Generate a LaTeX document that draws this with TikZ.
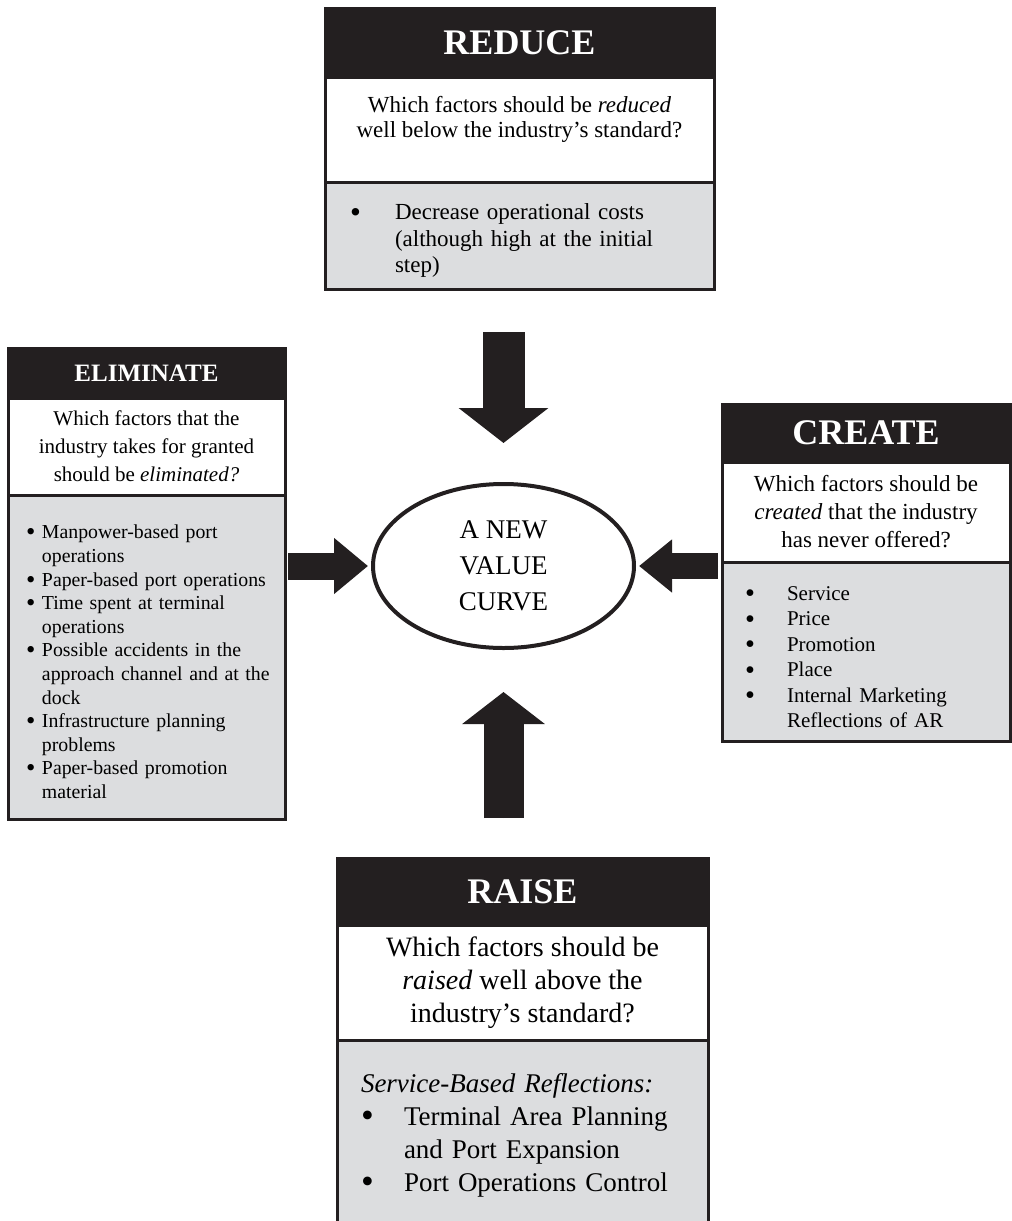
\documentclass[tikz,border=0pt]{standalone}
\usepackage{fontspec}
\setmainfont{Liberation Serif}
\usepackage{xcolor}
\usepackage{graphicx}
\usepackage{tikz}
\usetikzlibrary{positioning, shapes.geometric, arrows.meta}

\definecolor{inkblack}{HTML}{231F20}
\definecolor{listgray}{HTML}{DCDDDF}

\newcommand{\fsz}[2]{\fontsize{#1}{#2}\selectfont}
\newcommand{\bigdot}{\smash{\raisebox{-0.1em}{\scalebox{1.35}{\textbullet}}}}
\newcommand{\dotitem}[2]{\par\noindent\hangindent=#1\hangafter=1\makebox[#1][l]{\bigdot}#2}

\tikzset{
    headbox/.style={rectangle, draw=inkblack, fill=inkblack, text=white,
        line width=3pt, inner sep=0pt, outer sep=0pt, align=center},
    askbox/.style={rectangle, draw=inkblack, fill=white,
        line width=3pt, inner sep=0pt, outer sep=0pt, align=center},
    listbox/.style={rectangle, draw=inkblack, fill=listgray,
        line width=3pt, inner sep=0pt, outer sep=0pt, align=left},
    bigarrow/.style={draw=inkblack, fill=inkblack}
}

\begin{document}
\begin{tikzpicture}[x=1pt, y=-1pt]

    \useasboundingbox (0,0) rectangle (1012,1221);

    % =================================================================
    % 1. REDUCE
    % =================================================================
    \node[headbox, minimum width=389pt, minimum height=69pt, anchor=north west,
        font=\fsz{36}{40}\bfseries] (reduce-head) at (325,8) {REDUCE};
    \node[askbox, below=0pt of reduce-head, minimum width=389pt, minimum height=105pt,
        font=\fsz{23}{25}, text depth=26pt] (reduce-ask)
        {Which factors should be \textit{reduced}\\well below the industry’s standard?};
    \node[listbox, below=0pt of reduce-ask, minimum width=389pt, minimum height=107pt,
        text width=389pt, font=\fsz{23}{26.5}] (reduce-list)
        {\leftskip=25pt
         \dotitem{45pt}{Decrease operational costs\newline (although high at the initial\newline step)}\par};

    % =================================================================
    % 2. ELIMINATE
    % =================================================================
    \node[headbox, minimum width=277pt, minimum height=50pt, anchor=north west,
        font=\fsz{25}{28}\bfseries] (elim-head) at (8,348) {ELIMINATE};
    \node[askbox, below=0pt of elim-head, minimum width=277pt, minimum height=97pt,
        font=\fsz{21}{28}] (elim-ask)
        {Which factors that the\\industry takes for granted\\should be \textit{eliminated?}};
    \node[listbox, below=0pt of elim-ask, minimum width=277pt, minimum height=324pt,
        text width=277pt, font=\fsz{19.8}{23.6}] (elim-list)
        {\leftskip=18pt
         \dotitem{16pt}{Manpower-based port\newline operations}
         \dotitem{16pt}{Paper-based port operations}
         \dotitem{16pt}{Time spent at terminal\newline operations}
         \dotitem{16pt}{Possible accidents in the\newline approach channel and at the\newline dock}
         \dotitem{16pt}{Infrastructure planning\newline problems}
         \dotitem{16pt}{Paper-based promotion\newline material}\par};

    % =================================================================
    % 3. CREATE
    % =================================================================
    \node[headbox, minimum width=288pt, minimum height=58pt, anchor=north west,
        font=\fsz{36}{40}\bfseries] (create-head) at (722,404) {CREATE};
    \node[askbox, below=0pt of create-head, minimum width=288pt, minimum height=100pt,
        font=\fsz{23}{28}] (create-ask)
        {Which factors should be\\\textit{created} that the industry\\has never offered?};
    \node[listbox, below=0pt of create-ask, minimum width=288pt, minimum height=179pt,
        text width=288pt, font=\fsz{21}{25.5}] (create-list)
        {\leftskip=23pt
         \dotitem{42pt}{Service}
         \dotitem{42pt}{Price}
         \dotitem{42pt}{Promotion}
         \dotitem{42pt}{Place}
         \dotitem{42pt}{Internal Marketing\newline Reflections of AR}\par};

    % =================================================================
    % 4. RAISE
    % =================================================================
    \node[headbox, minimum width=371pt, minimum height=67pt, anchor=north west,
        font=\fsz{36}{40}\bfseries] (raise-head) at (337,858) {RAISE};
    \node[askbox, below=0pt of raise-head, minimum width=371pt, minimum height=115pt,
        font=\fsz{28}{33}] (raise-ask)
        {Which factors should be\\\textit{raised} well above the\\industry’s standard?};
    \node[listbox, below=0pt of raise-ask, minimum width=371pt, minimum height=190pt,
        text width=371pt, font=\fsz{27}{33}] (raise-list)
        {\leftskip=24pt
         \noindent\textit{Service-Based Reflections:}
         \dotitem{43pt}{Terminal Area Planning\newline and Port Expansion}
         \dotitem{43pt}{Port Operations Control}\par};

    % =================================================================
    % 5. CENTRE AND ARROWS
    % =================================================================
    \node[ellipse, draw=inkblack, line width=4pt, minimum width=261pt, minimum height=164pt,
        inner sep=0pt, outer sep=0pt, align=center, font=\fsz{27}{36}] (value-curve)
        at (503.5,566) {A NEW\\VALUE\\CURVE};

    \draw[bigarrow, line width=42pt, -{Triangle[length=35pt, width=88pt]},
        shorten <=43pt, shorten >=41pt]
        (value-curve.north |- reduce-list.south) -- (value-curve.north);
    \draw[bigarrow, line width=40pt, -{Triangle[length=32pt, width=81pt]},
        shorten <=40pt, shorten >=44pt]
        (value-curve.south |- raise-head.north) -- (value-curve.south);
    \draw[bigarrow, line width=27pt, -{Triangle[length=34pt, width=54pt]},
        shorten <=3pt, shorten >=5pt]
        (elim-list.east |- value-curve.west) -- (value-curve.west);
    \draw[bigarrow, line width=26pt, -{Triangle[length=33pt, width=51pt]},
        shorten <=4pt, shorten >=5pt]
        (create-list.west |- value-curve.east) -- (value-curve.east);

\end{tikzpicture}
\end{document}
